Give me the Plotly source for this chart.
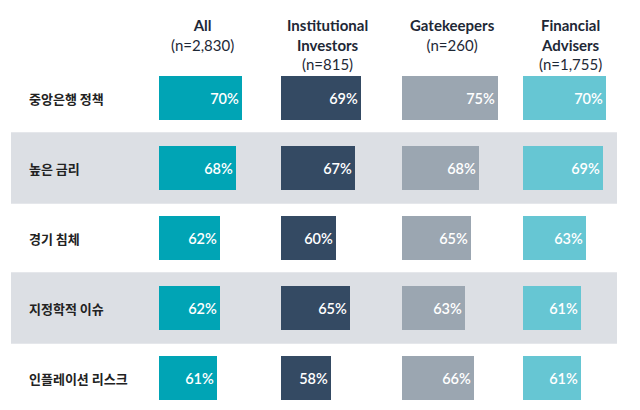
import plotly.graph_objects as go

categories = ["중앙은행 정책", "높은 금리", "경기 침체", "지정학적 이슈", "인플레이션 리스크"]
groups = ["All", "Institutional<br>Investors", "Gatekeepers", "Financial<br>Advisers"]
sample_sizes = ["(n=2,830)", "(n=815)", "(n=260)", "(n=1,755)"]
values_all = [70, 68, 62, 62, 61]
values_inst = [69, 67, 60, 65, 58]
values_gate = [75, 68, 65, 63, 66]
values_fa = [70, 69, 63, 61, 61]
series = [values_all, values_inst, values_gate, values_fa]
colors = ["#00A4B5", "#344A63", "#9BA6B1", "#66C6D3"]

W, H = 640, 410
col_left = [159, 281, 402, 523]
col_width = 110
header_center = [202, 327, 452, 570]

fig = go.Figure()
for k, vals in enumerate(series):
    ax = "" if k == 0 else str(k + 1)
    fig.add_trace(go.Bar(
        x=vals, y=categories, orientation="h",
        xaxis="x" + ax, yaxis="y",
        marker=dict(color=colors[k], line=dict(width=0)),
        width=0.63,
        text=[f"{v}%" for v in vals],
        textposition="inside", insidetextanchor="end",
        textfont=dict(color="white", size=14.5, family="Lato", weight=600),
        hoverinfo="skip", showlegend=False,
    ))

layout = dict(
    width=W, height=H,
    margin=dict(l=0, r=0, t=0, b=0),
    paper_bgcolor="white", plot_bgcolor="rgba(0,0,0,0)",
    bargap=0,
    yaxis=dict(range=[(H - 98) / 70, -98 / 70], visible=False, domain=[0, 1],
               type="category", categoryorder="array", categoryarray=categories),
)
for k in range(4):
    key = "xaxis" if k == 0 else f"xaxis{k + 1}"
    layout[key] = dict(
        domain=[col_left[k] / W, (col_left[k] + col_width) / W],
        range=[40, 80], visible=False, anchor="y", fixedrange=True,
    )
fig.update_layout(**layout)

# alternating row bands
for i in (1, 3):
    fig.add_shape(type="rect", xref="paper", yref="y",
                  x0=11 / W, x1=617 / W, y0=i - 0.51, y1=i + 0.51,
                  fillcolor="#DCDFE4", line=dict(width=0), layer="below")

# row labels
for c in categories:
    fig.add_annotation(x=27 / W, y=c, xref="paper", yref="y", text=c,
                       showarrow=False, xanchor="left", yanchor="middle",
                       font=dict(family="Noto Sans CJK KR", size=13, color="#222222", weight=700))

# column headers
for k in range(4):
    fig.add_annotation(x=header_center[k] / W, y=1 - 14 / H, xref="paper", yref="paper",
                       text=f"<b>{groups[k]}</b><br>{sample_sizes[k]}",
                       showarrow=False, xanchor="center", yanchor="top", align="center",
                       font=dict(family="Lato", size=15, color="#1E2836"))

fig.write_html("out.html", post_script="document.body.style.margin='0';",
               config={"displayModeBar": False})
